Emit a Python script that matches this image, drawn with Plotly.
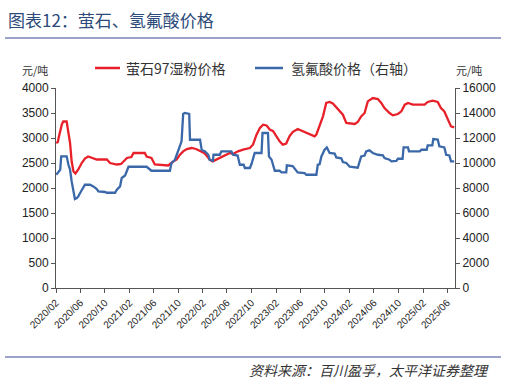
import plotly.graph_objects as go

fluorite_dates = ["2020-02-02","2020-02-10","2020-02-14","2020-02-22","2020-03-01","2020-03-08","2020-03-25","2020-04-03","2020-04-11","2020-04-19","2020-04-28","2020-05-08","2020-05-22","2020-06-08","2020-06-24","2020-07-10","2020-08-05","2020-08-22","2020-10-11","2020-10-27","2020-11-30","2020-12-21","2021-01-19","2021-02-10","2021-02-21","2021-04-18","2021-04-27","2021-05-21","2021-06-07","2021-08-12","2021-09-07","2021-09-24","2021-10-10","2021-10-26","2021-11-13","2021-12-07","2021-12-29","2022-01-18","2022-02-07","2022-02-19","2022-03-07","2022-03-22","2022-04-26","2022-05-20","2022-06-15","2022-07-01","2022-07-26","2022-08-20","2022-09-23","2022-10-09","2022-10-26","2022-11-12","2022-11-28","2022-12-15","2023-01-01","2023-01-16","2023-02-03","2023-02-18","2023-03-06","2023-03-23","2023-04-08","2023-04-24","2023-05-19","2023-06-13","2023-07-01","2023-07-17","2023-08-11","2023-08-20","2023-09-05","2023-09-22","2023-10-08","2023-10-25","2023-11-10","2023-12-05","2023-12-30","2024-01-16","2024-02-27","2024-03-13","2024-03-30","2024-04-16","2024-05-02","2024-05-27","2024-06-21","2024-07-08","2024-07-24","2024-08-18","2024-09-04","2024-09-29","2024-10-16","2024-11-02","2024-11-18","2024-12-12","2025-02-09","2025-02-24","2025-03-21","2025-04-15","2025-05-01","2025-05-18","2025-06-04","2025-06-20","2025-07-06"]
fluorite_price = [2900,2920,3000,3170,3270,3330,3330,3100,2900,2530,2330,2290,2370,2500,2590,2630,2600,2570,2570,2500,2470,2480,2600,2620,2700,2700,2630,2600,2470,2450,2530,2570,2666,2733,2780,2800,2780,2733,2700,2650,2566,2533,2600,2650,2700,2680,2733,2766,2800,2870,3066,3200,3266,3250,3166,3140,3033,2933,2866,2890,3033,3120,3180,3133,3100,3066,3033,3070,3266,3433,3700,3720,3690,3586,3466,3300,3280,3320,3433,3500,3733,3800,3780,3700,3600,3500,3453,3480,3533,3666,3700,3666,3666,3720,3746,3720,3600,3530,3366,3233,3213]

hf_dates = ["2020-02-02","2020-02-14","2020-02-22","2020-02-27","2020-03-25","2020-04-03","2020-04-11","2020-04-19","2020-04-27","2020-05-05","2020-05-15","2020-05-22","2020-05-31","2020-06-08","2020-06-24","2020-07-19","2020-08-05","2020-08-22","2020-08-30","2020-10-02","2020-10-11","2020-11-21","2020-11-30","2020-12-16","2020-12-24","2021-01-10","2021-01-27","2021-04-27","2021-05-13","2021-05-21","2021-08-21","2021-08-29","2021-09-15","2021-10-01","2021-10-18","2021-10-26","2021-11-03","2021-11-25","2021-11-29","2022-01-18","2022-01-26","2022-02-12","2022-02-28","2022-03-07","2022-03-23","2022-03-26","2022-04-26","2022-05-04","2022-06-23","2022-07-01","2022-07-24","2022-08-04","2022-08-23","2022-08-29","2022-09-23","2022-10-01","2022-10-17","2022-11-20","2022-11-25","2022-12-22","2022-12-27","2023-01-09","2023-01-16","2023-01-25","2023-02-18","2023-02-28","2023-03-23","2023-03-26","2023-04-24","2023-05-19","2023-06-22","2023-07-01","2023-08-20","2023-08-27","2023-09-05","2023-09-14","2023-09-30","2023-10-11","2023-10-25","2023-11-19","2023-11-27","2023-12-22","2023-12-30","2024-01-16","2024-02-02","2024-03-13","2024-03-30","2024-04-16","2024-04-24","2024-05-10","2024-05-27","2024-06-21","2024-07-16","2024-07-24","2024-08-18","2024-08-27","2024-09-21","2024-09-29","2024-10-22","2024-10-27","2024-11-18","2024-11-23","2025-01-16","2025-01-24","2025-02-19","2025-02-24","2025-03-19","2025-03-24","2025-04-15","2025-04-23","2025-05-18","2025-05-27","2025-06-12","2025-06-20","2025-07-06"]
hf_price = [9060,9330,9460,10530,10530,9860,9460,8530,7730,7120,7200,7330,7600,7860,8260,8260,8130,7920,7730,7680,7620,7620,7860,8130,8800,9000,9700,9700,9460,9380,9380,10000,10260,10930,11730,13920,14000,13920,11860,11860,11060,10930,10660,10260,10180,10660,10660,10930,10930,10660,10600,9860,9860,9600,9600,9920,10800,10800,12400,12400,10530,10260,9900,9380,9380,9250,9250,9810,9750,9250,9200,9060,9060,9860,9900,10530,11060,11250,10800,10750,10450,10380,10080,10000,9700,9620,10530,10600,10930,11010,10800,10660,10620,10400,10260,10130,10160,10340,10340,11250,11250,10930,10930,11060,11060,11410,11410,11920,11880,11330,11250,10660,10600,10130,10130]

tick_dates = ["2020-02-01","2020-06-01","2020-10-01","2021-02-01","2021-06-01","2021-10-01","2022-02-01","2022-06-01","2022-10-01","2023-02-01","2023-06-01","2023-10-01","2024-02-01","2024-06-01","2024-10-01","2025-02-01","2025-06-01"]
tick_labels = ["2020/02","2020/06","2020/10","2021/02","2021/06","2021/10","2022/02","2022/06","2022/10","2023/02","2023/06","2023/10","2024/02","2024/06","2024/10","2025/02","2025/06"]
left_ticks = [0,500,1000,1500,2000,2500,3000,3500,4000]
right_ticks = [0,2000,4000,6000,8000,10000,12000,14000,16000]
right_tick_labels = [str(v) for v in right_ticks]

series_names = ["萤石97湿粉价格", "氢氟酸价格（右轴）"]

RED = "#E8202A"
BLUE = "#3A68A8"
CJK = "Noto Sans CJK SC"
NUM = "Liberation Sans, Arial"

fig = go.Figure()
fig.add_trace(go.Scatter(x=fluorite_dates, y=fluorite_price, mode="lines",
                         name=series_names[0], line=dict(color=RED, width=2.3)))
fig.add_trace(go.Scatter(x=hf_dates, y=hf_price, mode="lines", yaxis="y2",
                         name=series_names[1], line=dict(color=BLUE, width=2.3)))

fig.update_layout(
    width=507, height=383,
    margin=dict(l=56, r=52, t=88, b=95, autoexpand=False),
    paper_bgcolor="white", plot_bgcolor="white",
    showlegend=False,
    xaxis=dict(type="date", range=["2020-02-01", "2025-07-10"],
               tickmode="array", tickvals=tick_dates, ticktext=tick_labels,
               tickangle=-45, tickfont=dict(family=NUM, size=10, color="#222222"),
               ticks="outside", ticklen=4, tickcolor="#555555",
               showline=True, linecolor="#555555", linewidth=1,
               showgrid=False, zeroline=False),
    yaxis=dict(range=[0, 4000], tickmode="array", tickvals=left_ticks,
               tickfont=dict(family=NUM, size=12, color="#222222"),
               ticks="outside", ticklen=4, tickcolor="#555555",
               showline=True, linecolor="#555555", linewidth=1,
               showgrid=False, zeroline=False),
    yaxis2=dict(range=[0, 16000], overlaying="y", side="right",
                tickmode="array", tickvals=right_ticks, ticktext=right_tick_labels,
                tickfont=dict(family=NUM, size=12, color="#222222"),
                ticks="outside", ticklen=4, tickcolor="#555555",
                showline=True, linecolor="#555555", linewidth=1,
                showgrid=False, zeroline=False),
)

# manual legend
for (x0, x1, tx), name, col in zip([(39, 64, 68), (199, 227, 233)], series_names, [RED, BLUE]):
    fig.add_shape(type="line", xref="paper", yref="paper",
                  x0=x0/399, x1=x1/399, y0=1 + 20/200, y1=1 + 20/200,
                  line=dict(color=col, width=2.5))
    fig.add_annotation(text=name, xref="paper", yref="paper",
                       x=tx/399, y=1 + 20/200, xanchor="left", yanchor="middle",
                       showarrow=False, font=dict(family=CJK, size=14, color="#333333"))

fig.add_annotation(text="图表12：萤石、氢氟酸价格", xref="paper", yref="paper",
                   x=-50/399, y=1 + 69/200, xanchor="left", yanchor="middle",
                   showarrow=False, font=dict(family=CJK, size=17, color="#2D4B7A"))
fig.add_annotation(text="元/吨", xref="paper", yref="paper",
                   x=-36/399, y=1 + 18/200, xanchor="left", yanchor="middle",
                   showarrow=False, font=dict(family=CJK, size=11, color="#333333"))
fig.add_annotation(text="元/吨", xref="paper", yref="paper",
                   x=1 - 1/399, y=1 + 18/200, xanchor="left", yanchor="middle",
                   showarrow=False, font=dict(family=CJK, size=11, color="#333333"))
fig.add_annotation(text="<i>资料来源：百川盈孚，太平洋证券整理</i>", xref="paper", yref="paper",
                   x=1 + 36/399, y=-82/200, xanchor="right", yanchor="middle",
                   showarrow=False, font=dict(family=CJK, size=14, color="#333333"))

fig.add_shape(type="line", xref="paper", yref="paper",
              x0=-51/399, x1=445/399, y0=1 + 50/200, y1=1 + 50/200,
              line=dict(color="#9DA3C8", width=2))
fig.add_shape(type="line", xref="paper", yref="paper",
              x0=-51/399, x1=445/399, y0=-69/200, y1=-69/200,
              line=dict(color="#9DA3C8", width=2))

fig.write_html("out.html", config={"displayModeBar": False},
               post_script="document.body.style.margin='0';document.body.style.padding='0';")
